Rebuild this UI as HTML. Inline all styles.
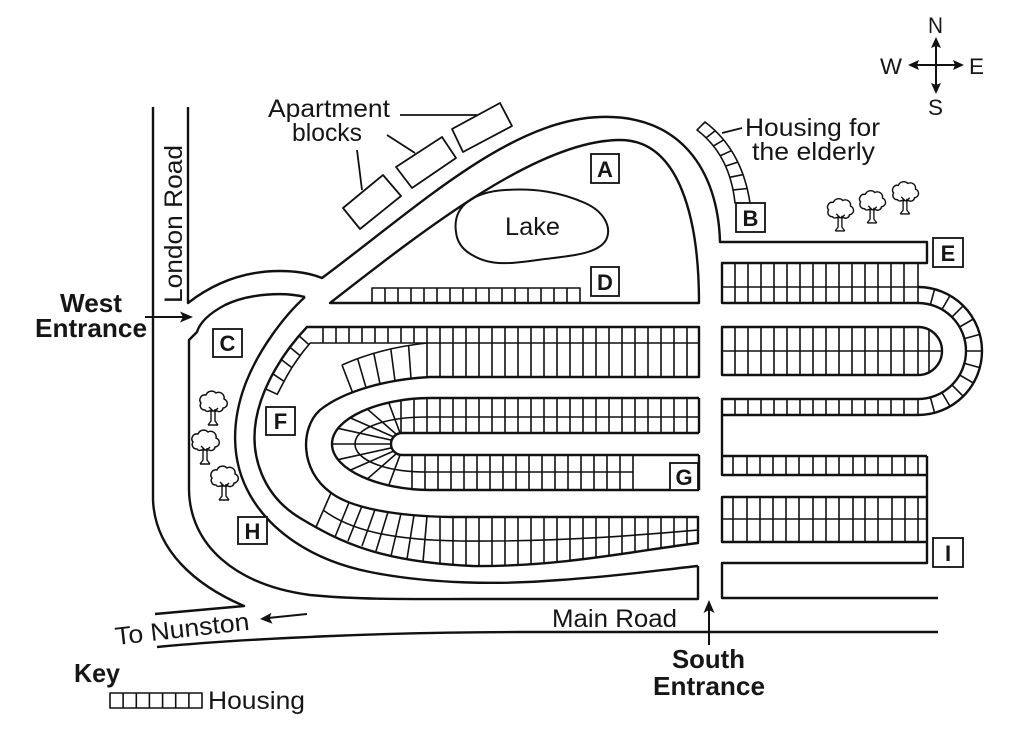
<!DOCTYPE html>
<html><head><meta charset="utf-8"><title>Map</title>
<style>
html,body{margin:0;padding:0;background:#fff;width:1024px;height:729px;overflow:hidden}
svg{display:block}
text{font-family:"Liberation Sans",Arial,sans-serif;fill:#161616}
.b{font-weight:bold}
</style></head><body>
<svg width="1024" height="729" viewBox="0 0 1024 729" xmlns="http://www.w3.org/2000/svg">
<rect width="1024" height="729" fill="#fff"/>

<!-- Roads and main outlines -->
<g fill="none" stroke="#111" stroke-width="2.4" stroke-linejoin="round">
<path d="M153,107 L153,500 C155,550 195,585 244,606 L155,614"/>
<path d="M188,107 L188,303 C215,282 245,271 280,271 C300,271 312,274 322,278 C420,205 510,120 600,117 C680,114 718,170 720,242 L927,242 L927,263 L722,263 L722,303 L918,303"/>
<path d="M305,297 C285,292 250,293 225,305 C210,313 200,322 197,332 L189,340 L189,490 C190,545 235,585 310,595 C360,600 420,599 470,599 L698,599 L698,566"/>
<path d="M698,566 C660,570 620,576 560,580 C500,585 430,584 370,572 C310,560 270,530 250,495 C230,460 232,420 245,385 C258,350 285,315 305,297"/>
<path d="M330,303 C430,225 540,140 620,140 C680,140 699,220 699,303 Z"/>
<path d="M699,327 L307,327 C285,350 262,385 256,420 C250,455 262,495 300,518 C340,542 380,562 473,566 C560,567 640,550 698,543 L698,517 L450,517 C395,516 350,508 330,492 C300,470 300,428 320,410 C345,390 390,379 430,377 L699,377 Z"/>
<path d="M699,433 L402,433 A11,11 0 0 0 402,455 L699,455"/>
<path d="M699,398 L430,398 C380,398 332,418 332,444 C332,470 380,490 430,490 L699,490 M699,398 L699,433 M699,455 L699,490"/>
<path d="M157,647 C250,638 400,632 520,632 L938,632"/>
<path d="M722,327 L918,327 A24,24 0 0 1 918,375 L722,375 Z"/>
<path d="M918,287 A64,64 0 0 1 918,415 M918,303 A48,48 0 0 1 918,399"/>
<path d="M918,399 L722,399 L722,475 L927,475 M722,415 L918,415 M722,456 L927,456 M927,456 L927,563 L722,563 L722,598 L938,598"/>
<path d="M927,497 L722,497 L722,542 L927,542"/>
</g>

<!-- Housing grids -->
<g fill="none" stroke="#111" stroke-width="1.6" stroke-linejoin="round">
<!-- D row -->
<path d="M372,303 L372,288 L580,288 L580,303 M385,288V303M398,288V303M411,288V303M424,288V303M437,288V303M450,288V303M463,288V303M476,288V303M489,288V303M502,288V303M515,288V303M528,288V303M541,288V303M554,288V303M567,288V303"/>
<!-- Strip 1 top row -->
<path d="M310,343 L699,343 M323,327V343M336,327V343M349,327V343M362,327V343M375,327V343M388,327V343M401,327V343M414,327V343M427,327V343M440,327V343M453,327V343M466,327V343M479,327V343M492,327V343M505,327V343M518,327V343M531,327V343M544,327V343M557,327V343M570,327V343M583,327V343M596,327V343M609,327V343M622,327V343M635,327V343M648,327V343M661,327V343M674,327V343M687,327V343"/>
<!-- diagonal housing -->
<path d="M310.2,343 L303.7,350.9 L297.7,359 L291.9,367.6 L286.5,376.7 L281.6,386 L277.3,394.3 L265.5,388.9 M299.1,335.9 L308.9,344.6 M289.9,347.3 L300.2,355.8 M281.3,359.6 L291.9,367.6 M272.8,373.8 L284,381.3"/>
<!-- Strip 1 lower row -->
<path d="M427,343V377M440,343V377M453,343V377M466,343V377M479,343V377M492,343V377M505,343V377M518,343V377M531,343V377M544,343V377M557,343V377M570,343V377M583,343V377M596,343V377M609,343V377M622,343V377M635,343V377M648,343V377M661,343V377M674,343V377M687,343V377"/>
<path d="M342,365 Q380,348 427,343 M342,365 L352.5,392.3 M357.6,358.7 L366,387.5 M373.8,353.3 L380,384 M390.8,348.9 L395,381 M408.6,345.5 L411,378.5"/>
<!-- Oval strips 2/3 -->
<path d="M699,417 L427,417 C385,417 355,428 355,444 C355,460 385,472 427,472 L633,472"/>
<path d="M401,400V433M414,399V433M427,398V433M440,398V433M453,398V433M466,398V433M479,398V433M492,398V433M505,398V433M518,398V433M531,398V433M544,398V433M557,398V433M570,398V433M583,398V433M596,398V433M609,398V433M622,398V433M635,398V433M648,398V433M661,398V433M674,398V433M687,398V433"/>
<path d="M412,455V489M425,455V490M438,455V490M451,455V490M464,455V490M477,455V490M490,455V490M503,455V490M516,455V490M529,455V490M542,455V490M555,455V490M568,455V490M581,455V490M594,455V490M607,455V490M620,455V490M633,455V490"/>
<path d="M388.6,402.3 L400.1,433.2 M367,408.8 L396.5,434.5 M349.7,417.6 L393.6,436.9 M337.9,428.3 L391.7,440.2 M332,444 L391,444 M337.9,459.7 L391.7,447.8 M349.7,470.4 L393.6,451.1 M367,479.2 L396.5,453.5 M388.6,485.7 L400.1,454.8"/>
<!-- Strip 4 -->
<path d="M323,510 C350,530 390,540 460,541 C560,542 640,535 698,530"/>
<path d="M331,493 L316,527 M349,502.5 L335,537 M362,506 L348,541 M375,509.5 L362,546 M388,512 L376,551 M401,513.5 L391,556 M414,515 L407,559 M427,516 L423,562"/>
<path d="M440,517V563.5M453,517V564.7M466,517V565.6M479,517V566M492,517V566M505,517V565.7M518,517V565M531,517V564.2M544,517V563.2M557,517V562M570,517V560.7M583,517V559.3M596,517V557.5M609,517V555.8M622,517V554M635,517V552M648,517V550M661,517V548M674,517V546M687,517V544.6"/>
<!-- East blocks -->
<path d="M722,287 L918,287 M918,263V303 M722,351 L942,351 M722,519 L927,519"/>
<path d="M735,263V303M748,263V303M761,263V303M774,263V303M787,263V303M800,263V303M813,263V303M826,263V303M839,263V303M852,263V303M865,263V303M878,263V303M891,263V303M904,263V303"/>
<path d="M735,327V375M748,327V375M761,327V375M774,327V375M787,327V375M800,327V375M813,327V375M826,327V375M839,327V375M852,327V375M865,327V375M878,327V375M891,327V375M904,327V375M918,327V375M929,329.5V372.5"/>
<path d="M735,399V415M748,399V415M761,399V415M774,399V415M787,399V415M800,399V415M813,399V415M826,399V415M839,399V415M852,399V415M865,399V415M878,399V415M891,399V415M904,399V415M918,399V415"/>
<path d="M733,456V475M747,456V475M760,456V475M773,456V475M786,456V475M799,456V475M813,456V475M826,456V475M839,456V475M853,456V475M865,456V475M878,456V475M892,456V475M905,456V475M918,456V475"/>
<path d="M733,497V542M747,497V542M760,497V542M773,497V542M786,497V542M799,497V542M813,497V542M826,497V542M839,497V542M853,497V542M865,497V542M878,497V542M892,497V542M905,497V542M918,497V542"/>
<path d="M930.4,304.6 L934.6,289.2 M942,309.4 L950,295.6 M951.9,317.1 L963.3,305.7 M959.6,327 L973.4,319 M964.4,338.6 L979.8,334.4 M966,351 L982,351 M964.4,363.4 L979.8,367.6 M959.6,375 L973.4,383 M951.9,384.9 L963.3,396.3 M942,392.6 L950,406.4 M930.4,397.4 L934.6,412.8"/>
<!-- Elderly housing -->
<path d="M705,122 Q742,150 750,203 L735,203 Q730,155 697,130 Z M715.3,130.6 L706.2,137.7 M723.5,140 L713.3,146.1 M731.4,150.7 L720.1,155.8 M737.8,162.1 L725.5,166.1 M742.7,174.7 L729.6,177.3 M747.5,188.5 L733.3,189.9"/>
<!-- Key symbol -->
<path d="M110,693 L202,693 L202,708 L110,708 Z M123.1,693V708M136.3,693V708M149.4,693V708M162.6,693V708M175.7,693V708M188.9,693V708"/>
</g>

<!-- Apartment blocks and leaders -->
<g fill="none" stroke="#111" stroke-width="1.8" stroke-linejoin="round">
<path d="M343,208 L383,175 L401,196 L360,229 Z"/>
<path d="M396,167 L442,137 L456,158 L412,188 Z"/>
<path d="M452,129 L500,103 L512,126 L463,152 Z"/>
<path d="M400,115 L477,115 M387,135 L415,153 M357,150 L362,190 M722,133 L742,128"/>
</g>

<!-- Lake -->
<path d="M456,232 C452,205 475,192 505,190 C535,188 560,192 585,203 C605,212 612,228 606,240 C598,254 570,256 545,259 C520,262 495,268 474,256 C462,250 457,242 456,232 Z" fill="none" stroke="#111" stroke-width="2"/>

<!-- Trees -->
<g stroke="#111" stroke-linejoin="round">
<g transform="translate(213,403)"><path d="M-8,7 A4.5,4.5 0 0 1 -12,0 A5,5 0 0 1 -7,-8 A6,6 0 0 1 3,-10 A5.5,5.5 0 0 1 11,-4 A4.6,4.6 0 0 1 10,5 A4,4 0 0 1 4,8 L-4,8 A3,3 0 0 1 -8,7 Z" fill="#fff" stroke-width="1.5"/><path d="M-2,6 L-2,18 L-5,22 M2,6 L2,18 L5,22 M-5,22 L5,22 M0,8 L-4,4 M1,9 L5,5" fill="none" stroke-width="1.4"/></g>
<g transform="translate(205,442)"><path d="M-8,7 A4.5,4.5 0 0 1 -12,0 A5,5 0 0 1 -7,-8 A6,6 0 0 1 3,-10 A5.5,5.5 0 0 1 11,-4 A4.6,4.6 0 0 1 10,5 A4,4 0 0 1 4,8 L-4,8 A3,3 0 0 1 -8,7 Z" fill="#fff" stroke-width="1.5"/><path d="M-2,6 L-2,18 L-5,22 M2,6 L2,18 L5,22 M-5,22 L5,22 M0,8 L-4,4 M1,9 L5,5" fill="none" stroke-width="1.4"/></g>
<g transform="translate(224,478)"><path d="M-8,7 A4.5,4.5 0 0 1 -12,0 A5,5 0 0 1 -7,-8 A6,6 0 0 1 3,-10 A5.5,5.5 0 0 1 11,-4 A4.6,4.6 0 0 1 10,5 A4,4 0 0 1 4,8 L-4,8 A3,3 0 0 1 -8,7 Z" fill="#fff" stroke-width="1.5"/><path d="M-2,6 L-2,18 L-5,22 M2,6 L2,18 L5,22 M-5,22 L5,22 M0,8 L-4,4 M1,9 L5,5" fill="none" stroke-width="1.4"/></g>
<g transform="translate(840,210) scale(0.95)"><path d="M-8,7 A4.5,4.5 0 0 1 -12,0 A5,5 0 0 1 -7,-8 A6,6 0 0 1 3,-10 A5.5,5.5 0 0 1 11,-4 A4.6,4.6 0 0 1 10,5 A4,4 0 0 1 4,8 L-4,8 A3,3 0 0 1 -8,7 Z" fill="#fff" stroke-width="1.5"/><path d="M-2,6 L-2,18 L-5,22 M2,6 L2,18 L5,22 M-5,22 L5,22 M0,8 L-4,4 M1,9 L5,5" fill="none" stroke-width="1.4"/></g>
<g transform="translate(872,202) scale(0.95)"><path d="M-8,7 A4.5,4.5 0 0 1 -12,0 A5,5 0 0 1 -7,-8 A6,6 0 0 1 3,-10 A5.5,5.5 0 0 1 11,-4 A4.6,4.6 0 0 1 10,5 A4,4 0 0 1 4,8 L-4,8 A3,3 0 0 1 -8,7 Z" fill="#fff" stroke-width="1.5"/><path d="M-2,6 L-2,18 L-5,22 M2,6 L2,18 L5,22 M-5,22 L5,22 M0,8 L-4,4 M1,9 L5,5" fill="none" stroke-width="1.4"/></g>
<g transform="translate(905,193) scale(0.95)"><path d="M-8,7 A4.5,4.5 0 0 1 -12,0 A5,5 0 0 1 -7,-8 A6,6 0 0 1 3,-10 A5.5,5.5 0 0 1 11,-4 A4.6,4.6 0 0 1 10,5 A4,4 0 0 1 4,8 L-4,8 A3,3 0 0 1 -8,7 Z" fill="#fff" stroke-width="1.5"/><path d="M-2,6 L-2,18 L-5,22 M2,6 L2,18 L5,22 M-5,22 L5,22 M0,8 L-4,4 M1,9 L5,5" fill="none" stroke-width="1.4"/></g>
</g>

<!-- Arrows -->
<g stroke="#111" stroke-width="2" fill="none">
<path d="M145,317 L184,317"/>
<path d="M307,614 L268,618"/>
<path d="M709,645 L709,608"/>
<path d="M912,65 L960,65 M936,41 L936,90"/>
</g>
<g fill="#111" stroke="none">
<path d="M193,317 L180,311.5 L183,317 L180,322.5 Z"/>
<path d="M260,619 L271.5,612.8 L269.5,618 L272.5,623.8 Z"/>
<path d="M709,600 L703.5,613 L709,610 L714.5,613 Z"/>
<path d="M936,37 L931,48 L936,46 L941,48 Z"/>
<path d="M936,94 L931,83 L936,85 L941,83 Z"/>
<path d="M908,65 L919,60 L917,65 L919,70 Z"/>
<path d="M964,65 L953,60 L955,65 L953,70 Z"/>
</g>

<!-- Label boxes -->
<g fill="#fff" stroke="#111" stroke-width="1.8">
<rect x="591" y="154" width="28" height="29"/>
<rect x="736" y="203" width="29" height="29"/>
<rect x="213" y="329" width="29" height="28"/>
<rect x="591" y="267" width="28" height="29"/>
<rect x="933" y="238" width="30" height="29"/>
<rect x="266" y="407" width="29" height="28"/>
<rect x="670" y="463" width="28" height="27"/>
<rect x="238" y="517" width="29" height="27"/>
<rect x="933" y="538" width="30" height="29"/>
</g>
<g class="b" font-size="22" text-anchor="middle">
<text x="605" y="177" class="b">A</text>
<text x="750.5" y="226" class="b">B</text>
<text x="227.5" y="351" class="b">C</text>
<text x="605" y="290" class="b">D</text>
<text x="948" y="261" class="b">E</text>
<text x="280.5" y="429" class="b">F</text>
<text x="684" y="485" class="b">G</text>
<text x="252.5" y="539" class="b">H</text>
<text x="948" y="561" class="b">I</text>
</g>

<!-- Text labels -->
<text x="268" y="117" font-size="25" textLength="122" lengthAdjust="spacingAndGlyphs">Apartment</text>
<text x="292" y="141" font-size="25" textLength="70" lengthAdjust="spacingAndGlyphs">blocks</text>
<text x="745" y="136" font-size="25" textLength="135" lengthAdjust="spacingAndGlyphs">Housing for</text>
<text x="752" y="160" font-size="25" textLength="123" lengthAdjust="spacingAndGlyphs">the elderly</text>
<text x="505" y="235" font-size="25" textLength="55" lengthAdjust="spacingAndGlyphs">Lake</text>
<text transform="translate(182,303) rotate(-90)" font-size="25" textLength="158" lengthAdjust="spacingAndGlyphs">London Road</text>
<text x="60" y="312" font-size="26" class="b" textLength="62" lengthAdjust="spacingAndGlyphs">West</text>
<text x="35" y="337" font-size="26" class="b" textLength="112" lengthAdjust="spacingAndGlyphs">Entrance</text>
<text transform="translate(116,645) rotate(-6.5)" font-size="25" textLength="135" lengthAdjust="spacingAndGlyphs">To Nunston</text>
<text x="552" y="627" font-size="25" textLength="125" lengthAdjust="spacingAndGlyphs">Main Road</text>
<text x="672" y="668" font-size="26" class="b" textLength="73" lengthAdjust="spacingAndGlyphs">South</text>
<text x="653" y="695" font-size="26" class="b" textLength="112" lengthAdjust="spacingAndGlyphs">Entrance</text>
<text x="74" y="682" font-size="26" class="b" textLength="46" lengthAdjust="spacingAndGlyphs">Key</text>
<text x="208" y="709" font-size="25" textLength="97" lengthAdjust="spacingAndGlyphs">Housing</text>
<text x="928" y="33" font-size="22" textLength="15" lengthAdjust="spacingAndGlyphs">N</text>
<text x="928" y="115" font-size="22" textLength="15" lengthAdjust="spacingAndGlyphs">S</text>
<text x="880" y="74" font-size="22" textLength="22" lengthAdjust="spacingAndGlyphs">W</text>
<text x="969" y="74" font-size="22" textLength="15" lengthAdjust="spacingAndGlyphs">E</text>
</svg>
</body></html>
